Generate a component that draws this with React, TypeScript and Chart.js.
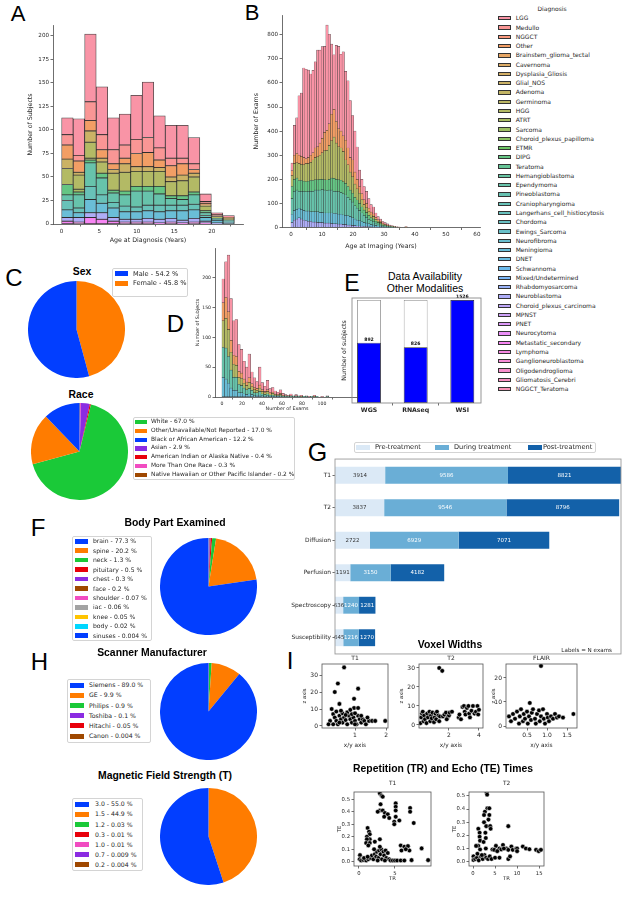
import React, { useEffect, useRef } from 'react';
import { Chart, registerables } from 'chart.js';
Chart.register(...registerables);

// ================= DATA =================
const DIAGNOSES = ['LGG','Medullo','NGGCT','Other','Brainstem_glioma_tectal','Cavernoma','Dysplasia_Gliosis','Glial_NOS','Adenoma','Germinoma','HGG','ATRT','Sarcoma','Choroid_plexus_papilloma','ETMR','DIPG','Teratoma','Hemangioblastoma','Ependymoma','Pineoblastoma','Craniopharyngioma','Langerhans_cell_histiocytosis','Chordoma','Ewings_Sarcoma','Neurofibroma','Meningioma','DNET','Schwannoma','Mixed/Undetermined','Rhabdomyosarcoma','Neuroblastoma','Choroid_plexus_carcinoma','MPNST','PNET','Neurocytoma','Metastatic_secondary','Lymphoma','Ganglioneuroblastoma','Oligodendroglioma','Gliomatosis_Cerebri','NGGCT_Teratoma'];

// Panel A: age at diagnosis, 15 bins of 23/15 years
const A_BIN_START = 0;
const A_BIN_WIDTH = 23 / 15;
const A_LGG = [18, 39, 72, 51, 34, 33, 47, 59, 34, 35, 35, 28, 8, 2, 2];
const A_MEDULLO = [11, 6, 20, 16, 15, 14, 15, 16, 13, 8, 6, 6, 2, 1, 0];
const A_OTHER = [15, 12, 11, 9, 6, 6, 14, 15, 8, 12, 12, 4, 2, 1, 1];
const A_GLIAL = [10, 3, 12, 4, 4, 9, 5, 5, 4, 5, 6, 4, 1, 0, 1];
const A_HGG = [17, 15, 17, 12, 18, 20, 16, 16, 16, 15, 16, 16, 5, 2, 1];
const A_ATRT = [0, 3, 2, 0, 0, 0, 0, 0, 0, 0, 0, 0, 0, 0, 0];
const A_DIPG = [11, 3, 3, 5, 3, 4, 5, 5, 8, 3, 4, 3, 2, 0, 0];
const A_EPEND = [6, 14, 25, 18, 10, 12, 17, 15, 12, 7, 6, 10, 3, 1, 1];
const A_CRANIO = [10, 5, 14, 9, 6, 6, 5, 6, 7, 6, 6, 6, 2, 1, 1];
const A_MENING = [8, 5, 14, 10, 10, 8, 8, 8, 8, 8, 10, 9, 4, 3, 2];
const A_NEUROB = [4, 5, 5, 7, 4, 3, 3, 4, 4, 4, 3, 4, 2, 1, 0];
const A_METAS = [3, 2, 7, 5, 3, 2, 2, 2, 1, 2, 1, 2, 1, 0, 0];
const A_X_TICKS = [0, 5, 10, 15, 20];
const A_Y_TICKS = [0, 25, 50, 75, 100, 125, 150, 175, 200];

// Panel B: age at imaging, bins of 0.75 years
const B_BIN_START = 0;
const B_BIN_WIDTH = 0.75;
const B_LGG = [32,124,148,247,263,372,372,363,337,342,358,401,386,381,357,437,372,291,227,316,342,319,349,286,279,237,185,170,134,68,60,55,50,40,31,29,18,13,9,7,6,5,3,3,2,1,1,0,0,2];
const B_OTHER = [20,35,39,35,33,30,20,25,30,30,40,42,50,60,77,83,90,110,115,90,75,70,65,82,70,60,70,50,40,28,25,20,18,15,12,11,8,6,6,4,3,2,2,1,1,1,0,0,0,1];
const B_HGG = [45,65,63,70,67,68,75,73,75,85,92,95,100,110,120,123,140,155,171,150,137,134,125,97,90,75,68,55,46,42,30,23,20,15,12,10,8,6,5,4,3,2,1,1,0,0,1,0,0,1];
const B_DIPG = [50,50,50,45,45,42,42,42,45,45,43,43,45,42,43,45,45,50,54,50,50,51,50,48,45,40,37,35,34,30,25,22,20,16,12,11,8,6,5,3,3,2,1,1,1,0,0,0,0,0];
const B_EPEND = [65,80,80,70,75,80,80,82,85,85,90,90,93,96,95,92,95,95,92,92,93,90,88,85,77,70,65,55,50,42,36,30,24,19,16,14,10,8,5,4,3,2,2,1,1,1,0,0,0,0];
const B_MENING = [35,40,40,40,40,40,40,43,40,43,43,45,42,42,42,42,42,44,43,43,41,41,40,38,38,35,32,27,24,22,19,16,14,12,9,8,6,5,4,2,2,2,1,1,0,0,0,0,0,0];
const B_NEUROB = [20,30,35,40,35,30,28,25,25,22,22,20,20,20,18,18,18,16,15,15,14,14,12,12,10,10,8,8,6,6,5,4,4,3,3,2,2,1,1,1,0,0,0,0,0,0,0,0,0,0];
const B_X_TICKS = [0, 10, 20, 30, 40, 50, 60];
const B_Y_TICKS = [0, 100, 200, 300, 400, 500, 600, 700, 800];

// Panel D: number of exams per subject, bins of 2.6 exams
const D_BIN_START = 0;
const D_BIN_WIDTH = 2.6;
const D_LGG = [40,60,95,70,58,62,45,40,30,25,40,20,16,12,30,12,9,16,7,8,5,4,6,3,2,1,3,1,2,1,2,0,1,1,0,2,0,0,1,0,1];
const D_OTHER = [30,35,30,20,15,15,10,9,7,6,8,5,4,3,5,3,2,3,2,2,1,1,2,1,0,1,0,0,1,0,0,0,0,0,0,0,0,0,0,0,0];
const D_HGG = [45,50,45,30,22,20,12,12,8,7,10,6,5,4,6,4,3,4,2,3,2,1,2,1,1,0,1,0,0,0,1,0,0,0,0,1,0,0,0,0,0];
const D_EPEND = [50,52,45,30,22,22,14,12,10,8,9,7,5,4,6,3,3,3,2,2,1,1,1,1,1,1,1,1,1,1,0,1,1,0,1,0,1,0,0,0,1];
const D_MENING = [33,30,23,15,11,11,7,7,5,4,5,4,2,3,3,2,1,2,1,1,1,1,1,0,0,0,0,0,0,0,0,0,0,0,0,0,0,0,0,0,0];
const D_X_TICKS = [0, 20, 40, 60, 80, 100];
const D_Y_TICKS = [0, 50, 100, 150, 200];

// Panel C
const SEX_LABELS = ['Male', 'Female'];
const SEX_PCT = ['54.2', '45.8'];
const RACE_LABELS = ['White', 'Other/Unavailable/Not Reported', 'Black or African American', 'Asian', 'American Indian or Alaska Native', 'More Than One Race', 'Native Hawaiian or Other Pacific Islander'];
const RACE_PCT = ['67.0', '17.0', '12.2', '2.9', '0.4', '0.3', '0.2'];
const RACE_DRAW_ORDER = [2, 1, 0, 4, 3, 5, 6];

// Panel E
const E_CATS = ['WGS', 'RNAseq', 'WSI'];
const E_VALUES = [892, 826, 1526];
const E_TOTAL = [1526, 1526, 1526];

// Panel F
const BODY_LABELS = ['brain', 'spine', 'neck', 'pituitary', 'chest', 'face', 'shoulder', 'iac', 'knee', 'body', 'sinuses'];
const BODY_PCT = ['77.3', '20.2', '1.3', '0.5', '0.3', '0.2', '0.07', '0.06', '0.05', '0.02', '0.004'];

// Panel G
const G_CATS = ['T1', 'T2', 'Diffusion', 'Perfusion', 'Spectroscopy', 'Susceptibility'];
const G_PRE = [3914, 3837, 2722, 1191, 636, 645];
const G_DURING = [9586, 9546, 6929, 3150, 1240, 1216];
const G_POST = [8821, 8796, 7071, 4182, 1281, 1270];
const G_SERIES = ['Pre-treatment', 'During treatment', 'Post-treatment'];

// Panel H
const SCANNER_LABELS = ['Siemens', 'GE', 'Philips', 'Toshiba', 'Hitachi', 'Canon'];
const SCANNER_PCT = ['89.0', '9.9', '0.9', '0.1', '0.05', '0.004'];
const FIELD_LABELS = ['3.0', '1.5', '1.2', '0.3', '1.0', '0.7', '0.2'];
const FIELD_PCT = ['55.0', '44.9', '0.03', '0.01', '0.01', '0.009', '0.004'];

// Panel I
const VOX_T1 = [[0.65,34.5],[0.45,25],[0.35,20],[1.1,22],[0.97,16],[0.97,10.6],[1.1,10.6],[0.5,13],[0.25,10],[0.3,7],[0.35,5],[0.4,3],[0.45,1],[0.5,6],[0.55,4],[0.6,2],[0.65,5],[0.7,3.5],[0.75,1],[0.8,6],[0.85,4],[0.9,2],[0.95,5],[1.0,3],[1.05,1],[1.1,6],[1.15,4],[1.2,2],[1.25,4],[1.3,3],[1.35,1],[1.45,3],[1.55,3],[1.65,3],[1.97,3],[0.2,3],[0.15,1],[0.3,1],[0.6,7.5],[0.75,8],[0.9,7],[1.0,7.5],[0.4,8.5],[0.55,9],[0.85,9.5],[1.2,6],[0.7,6.5],[0.5,2],[1.0,1],[1.4,5]];
const VOX_T2 = [[0.1,1],[0.15,4],[0.2,6],[0.25,7],[0.3,2],[0.35,5],[0.4,3],[0.5,1],[0.55,6],[0.6,4],[0.7,7],[0.75,2],[0.8,5],[0.85,3.5],[0.9,6.5],[1.0,1.5],[1.05,4],[1.1,6],[1.15,3],[1.2,7],[1.3,5],[1.35,2],[1.4,4.5],[1.6,4.5],[1.7,5.5],[1.8,6.5],[1.9,4],[2.0,5],[2.05,6.5],[2.2,7],[1.85,3],[2.65,4],[2.7,5.5],[2.8,3],[2.9,9.5],[3.0,10],[3.05,7],[3.1,5.5],[3.2,9],[3.3,10],[3.35,6],[3.4,4],[3.5,7.5],[3.6,10],[3.7,6],[3.8,7],[3.9,10],[3.95,5.5],[4.0,8],[1.35,30],[1.55,28.5]];
const VOX_FLAIR = [[0.05,4],[0.1,2],[0.15,5],[0.2,3],[0.25,6],[0.3,1],[0.32,4],[0.35,7],[0.4,2],[0.42,5],[0.45,3],[0.5,6],[0.52,1],[0.55,4],[0.57,9.6],[0.6,2.5],[0.62,5.5],[0.65,7],[0.7,3],[0.72,1],[0.75,5],[0.8,6.5],[0.82,2],[0.85,4],[0.9,7],[0.92,3],[0.95,1],[1.0,5],[1.02,3.5],[1.05,2],[1.1,4],[1.15,3],[1.2,5],[1.25,3.5],[1.3,4],[1.4,3.5],[1.66,5],[0.85,25]];
const TRTE_T1 = [[2.9,0.547],[3.15,0.528],[3.3,0.52],[3.0,0.46],[2.9,0.41],[3.3,0.41],[3.6,0.39],[4.0,0.38],[4.2,0.35],[5.1,0.467],[5.1,0.44],[5.1,0.41],[5.1,0.36],[4.9,0.32],[4.9,0.30],[5.6,0.33],[7.1,0.43],[7.1,0.40],[7.6,0.31],[2.6,0.40],[3.5,0.36],[1.2,0.27],[1.4,0.24],[1.5,0.22],[1.1,0.20],[1.5,0.18],[1.1,0.18],[1.0,0.15],[1.5,0.15],[2.2,0.16],[2.9,0.18],[1.3,0.13],[5.8,0.13],[6.3,0.12],[6.8,0.125],[5.9,0.09],[7.0,0.09],[6.5,0.10],[8.7,0.107],[9.6,0.013],[7.3,0.013],[0.14,0.053],[0.1,0.02],[0.3,0.01],[0.6,0.015],[1.0,0.01],[1.3,0.02],[1.6,0.03],[1.8,0.05],[2.0,0.02],[2.2,0.06],[2.4,0.04],[2.5,0.08],[2.7,0.03],[2.8,0.09],[3.0,0.06],[3.1,0.1],[3.2,0.02],[3.4,0.08],[3.5,0.05],[3.7,0.09],[3.8,0.03],[4.0,0.07],[4.2,0.02],[4.4,0.01],[4.7,0.01],[5.0,0.01],[5.3,0.01],[5.8,0.01],[6.3,0.01],[0.7,0.03],[1.2,0.04],[2.6,0.01],[3.6,0.01],[2.1,0.1],[2.9,0.12]];
const TRTE_T2 = [[3.1,0.525],[3.2,0.51],[3.25,0.406],[3.7,0.406],[2.7,0.38],[3.7,0.355],[2.5,0.355],[3.5,0.32],[2.5,0.30],[3.0,0.27],[3.9,0.27],[4.0,0.25],[2.8,0.22],[1.2,0.25],[1.5,0.22],[1.5,0.19],[1.6,0.16],[2.4,0.15],[2.9,0.18],[1.2,0.12],[0.7,0.12],[8.0,0.27],[1.6,0.093],[2.9,0.10],[4.4,0.093],[5.2,0.12],[6.0,0.10],[6.4,0.093],[6.8,0.127],[7.6,0.10],[8.0,0.09],[8.7,0.115],[9.0,0.09],[9.8,0.10],[11.3,0.115],[12.0,0.10],[12.8,0.095],[14.3,0.09],[14.9,0.08],[15.4,0.09],[8.0,0.02],[8.4,0.04],[0.1,0.04],[0.1,0.013],[0.5,0.02],[0.9,0.03],[1.3,0.01],[1.8,0.04],[2.2,0.02],[2.6,0.05],[3.0,0.03],[3.4,0.02],[3.8,0.04],[4.2,0.02],[5.0,0.03],[6.0,0.03],[10.0,0.1],[10.0,0.08],[4.8,0.09],[5.5,0.08],[7.0,0.1],[2.0,0.05],[1.0,0.06]];

// ================= STYLE =================
const FONT = "'DejaVu Sans', sans-serif";
const ARIAL = "'Liberation Sans', Arial, sans-serif";
const TXT = '#262626';
const SPINE = '#4a4a4a';
const BRIGHT = { blue: '#023eff', orange: '#ff7c00', green: '#1ac938', red: '#e8000b', purple: '#8b2be2', brown: '#9f4800', pink: '#f14cc1', gray: '#a3a3a3', yellow: '#ffc400', cyan: '#00d7ff' };
const SEX_COLORS = [BRIGHT.blue, BRIGHT.orange];
const RACE_COLORS = [BRIGHT.green, BRIGHT.orange, BRIGHT.blue, BRIGHT.purple, BRIGHT.red, BRIGHT.pink, BRIGHT.brown];
const BODY_COLORS = [BRIGHT.blue, BRIGHT.orange, BRIGHT.green, BRIGHT.red, BRIGHT.purple, BRIGHT.brown, BRIGHT.pink, BRIGHT.gray, BRIGHT.yellow, BRIGHT.cyan, BRIGHT.blue];
const SCANNER_COLORS = [BRIGHT.blue, BRIGHT.orange, BRIGHT.green, BRIGHT.purple, BRIGHT.red, BRIGHT.brown];
const FIELD_COLORS = [BRIGHT.blue, BRIGHT.orange, BRIGHT.green, BRIGHT.red, BRIGHT.pink, BRIGHT.purple, BRIGHT.brown];
const G_COLORS = ['#dbe9f6', '#6aaed6', '#1361a9'];

// HUSL palette (seaborn husl_palette)
const HM = [[3.2406, -1.5372, -0.4986], [-0.9689, 1.8758, 0.0415], [0.0557, -0.2040, 1.0570]];
function maxChroma(L: number, H: number) {
  const hrad = H / 360 * Math.PI * 2;
  const sinH = Math.sin(hrad), cosH = Math.cos(hrad);
  const sub1 = Math.pow(L + 16, 3) / 1560896;
  const sub2 = sub1 > 0.008856 ? sub1 : L / 903.3;
  let result = Infinity;
  for (const [m1, m2, m3] of HM) {
    const top = (0.99915 * m1 + 1.05122 * m2 + 1.14460 * m3) * sub2;
    const rb = 0.86330 * m3 - 0.17266 * m2;
    const lb = 0.12949 * m3 - 0.38848 * m1;
    const bottom = (rb * sinH + lb * cosH) * sub2;
    for (const t of [0, 1]) {
      const C = L * (top - 1.05122 * t) / (bottom + 0.17266 * sinH * t);
      if (C > 0 && C < result) result = C;
    }
  }
  return result;
}
function huslToRgb(H: number, S: number, L: number) {
  const C = maxChroma(L, H) / 100 * S;
  const hrad = H / 360 * 2 * Math.PI;
  const U = Math.cos(hrad) * C, V = Math.sin(hrad) * C;
  const t = (L + 16) / 116;
  const varY = Math.pow(t, 3) > 0.008856 ? Math.pow(t, 3) : (116 * t - 16) / 903.3;
  const varU = U / (13 * L) + 0.19784, varV = V / (13 * L) + 0.46834;
  const Y = varY;
  const X = -(9 * Y * varU) / ((varU - 4) * varV - varU * varV);
  const Z = (9 * Y - 15 * varV * Y - varV * X) / (3 * varV);
  return HM.map((r) => {
    let c = r[0] * X + r[1] * Y + r[2] * Z;
    c = c <= 0.0031308 ? 12.92 * c : 1.055 * Math.pow(c, 1 / 2.4) - 0.055;
    return Math.min(1, Math.max(0, c)) * 255;
  });
}
const PAL = DIAGNOSES.map((_, i) => huslToRgb((((i / DIAGNOSES.length) + 0.01) % 1) * 359, 89.1, 64.35));
const diagColor = (name: string) => {
  const c = PAL[DIAGNOSES.indexOf(name)];
  return `rgb(${c.map((v) => Math.round(v * 0.75 + 255 * 0.25)).join(',')})`;
};

// ================= HELPERS =================
function geom(L: number, T: number, R: number, B: number, wy: number, hx: number, pt = 6, pr = 8) {
  const left = Math.round(L - wy);
  const top = Math.round(T - pt);
  const width = Math.round(R + pr) - left;
  const height = Math.round(B + hx) - top;
  return { box: { left, top, width, height }, padding: { left: 0, top: T - top, right: left + width - R, bottom: 0 }, wy: L - left, hx: top + height - B };
}

function baseOptions(padding: any) {
  return {
    responsive: false, animation: false, devicePixelRatio: 1, events: [],
    layout: { padding },
    plugins: { legend: { display: false }, tooltip: { enabled: false }, title: { display: false } },
  };
}

function linAxis(o: any) {
  const isY = o.axis === 'y';
  return {
    type: 'linear', min: o.min, max: o.max, stacked: o.stacked, offset: false,
    afterBuildTicks: (s: any) => { s.ticks = o.ticks.map((v: number) => ({ value: v })); },
    afterFit: (s: any) => { if (isY) s.width = o.size; else s.height = o.size; },
    ticks: {
      display: o.showTicks !== false,
      autoSkip: false, maxRotation: 0, color: TXT, padding: o.tpad ?? 1.5,
      font: { size: o.fs, family: FONT, weight: o.bold ? 'bold' : 'normal' },
      callback: o.cb ?? ((v: number) => String(v)),
    },
    grid: { display: o.showGrid !== false, drawOnChartArea: false, drawTicks: true, tickLength: 2.5, color: SPINE, lineWidth: 0.8 },
    border: { display: o.border !== false, color: SPINE, width: 0.8 },
    title: o.title ? { display: true, text: o.title, font: { size: o.tfs, family: FONT }, color: TXT, padding: 0 } : { display: false },
  };
}

const framePlugin = {
  id: 'frame',
  afterDraw(chart: any, _a: any, opts: any) {
    if (!opts || !opts.color) return;
    const { ctx, chartArea: a } = chart;
    ctx.save();
    ctx.strokeStyle = opts.color;
    ctx.lineWidth = opts.width ?? 0.8;
    ctx.strokeRect(a.left, a.top, a.right - a.left, a.bottom - a.top);
    ctx.restore();
  },
};

function ChartCanvas({ box, make }: any) {
  const ref = useRef<HTMLCanvasElement>(null);
  useEffect(() => {
    const chart = new Chart(ref.current as HTMLCanvasElement, make());
    return () => chart.destroy();
  }, []);
  return (
    <div style={{ position: 'absolute', left: box.left, top: box.top, width: box.width, height: box.height }}>
      <canvas ref={ref} width={box.width} height={box.height} style={{ display: 'block', width: box.width, height: box.height }} />
    </div>
  );
}

function Txt({ x, y, text, size, bold, family, anchor, color, rotate }: any) {
  const tx = anchor === 'start' ? '0%' : anchor === 'end' ? '-100%' : '-50%';
  return (
    <div style={{
      position: 'absolute', left: x, top: y, transform: `translate(${tx}, -50%)${rotate ? ` rotate(${rotate}deg)` : ''}`,
      fontSize: size, lineHeight: 1, fontFamily: family ?? FONT, fontWeight: bold ? 'bold' : 'normal',
      color: color ?? TXT, whiteSpace: 'nowrap',
    }}>{text}</div>
  );
}

function LegendBox({ box, items, colors, fs, firstY, gap, patchX, patchW, patchH, textX, frame = true, edge }: any) {
  return (
    <>
      {frame && <div style={{ position: 'absolute', left: box[0], top: box[1], width: box[2] - box[0], height: box[3] - box[1], border: '1px solid #d4d4d4', borderRadius: 2, boxSizing: 'border-box', background: 'rgba(255,255,255,0.8)' }} />}
      {items.map((t: string, i: number) => (
        <React.Fragment key={i}>
          <div style={{ position: 'absolute', left: patchX, top: firstY + i * gap - patchH / 2, width: patchW, height: patchH, background: colors[i], boxSizing: 'border-box', border: edge ? `0.8px solid ${edge}` : 'none' }} />
          <Txt x={textX} y={firstY + i * gap} text={t} size={fs} anchor="start" color={TXT} />
        </React.Fragment>
      ))}
    </>
  );
}

// ================= CHART BUILDERS =================
function histogram(g: any, start: number, width: number, series: any[], x: any, y: any) {
  return () => ({
    type: 'bar',
    data: {
      datasets: series.slice().reverse().map(([name, vals]: any) => ({
        label: name,
        data: vals.map((v: number, i: number) => ({ x: start + (i + 0.5) * width, y: v })),
        backgroundColor: diagColor(name),
        borderColor: 'rgba(20,20,20,0.8)',
        borderWidth: x.bw ?? 0.6,
        borderSkipped: false,
        categoryPercentage: 1, barPercentage: 1,
      })),
    },
    options: {
      ...baseOptions(g.padding),
      scales: {
        x: linAxis({ axis: 'x', ...x, size: g.hx, stacked: true }),
        y: linAxis({ axis: 'y', ...y, size: g.wy, stacked: true }),
      },
    },
  });
}

function pie(values: number[], colors: string[]) {
  return () => ({
    type: 'pie',
    data: { datasets: [{ data: values.slice().reverse(), backgroundColor: colors.slice().reverse(), borderWidth: 0, hoverOffset: 0, offset: 0 }] },
    options: { ...baseOptions(0), rotation: 0 },
  });
}

function scatter(g: any, pts: number[][], x: any, y: any) {
  return () => ({
    type: 'scatter',
    data: { datasets: [{ data: pts.map(([a, b]) => ({ x: a, y: b })), backgroundColor: '#000', borderColor: '#fff', borderWidth: 0.5, pointRadius: 2.3 }] },
    options: {
      ...baseOptions(g.padding),
      scales: {
        x: linAxis({ axis: 'x', ...x, size: g.hx, border: false }),
        y: linAxis({ axis: 'y', ...y, size: g.wy, border: false }),
      },
      plugins: { ...baseOptions(0).plugins, frame: { color: '#555', width: 0.8 } },
    },
    plugins: [framePlugin],
  });
}

// ================= PANELS =================
const gA = geom(53, 25, 243, 224, 25.8, 19.8);
const gB = geom(282, 15, 480, 227.5, 28.8, 22.3);
const gD = geom(215, 248, 359, 397, 20, 15);
const gE = geom(352, 298, 481, 403, 10.6, 12);
const gG = geom(335, 458, 621, 659, 45, 0, 4, 4);
const gV1 = geom(322, 664, 388, 728, 20, 21);
const gV2 = geom(419, 664, 483, 728, 20, 21);
const gV3 = geom(506, 664, 577, 728, 15, 21);
const gR1 = geom(354, 792, 431, 866, 18, 16);
const gR2 = geom(469, 792, 544, 866, 18, 16);

const makeA = histogram(gA, A_BIN_START, A_BIN_WIDTH, [
  ['LGG', A_LGG], ['Medullo', A_MEDULLO], ['Other', A_OTHER], ['Glial_NOS', A_GLIAL], ['HGG', A_HGG], ['ATRT', A_ATRT], ['DIPG', A_DIPG],
  ['Ependymoma', A_EPEND], ['Craniopharyngioma', A_CRANIO], ['Meningioma', A_MENING], ['Neuroblastoma', A_NEUROB], ['Metastatic_secondary', A_METAS],
], { min: -1.15, max: 24.15, ticks: A_X_TICKS, fs: 5.6, title: 'Age at Diagnosis (Years)', tfs: 6.3, bw: 0.8 },
   { min: 0, max: 211.7, ticks: A_Y_TICKS, fs: 5.6, title: 'Number of Subjects', tfs: 6.3 });

const makeB = histogram(gB, B_BIN_START, B_BIN_WIDTH, [
  ['LGG', B_LGG], ['Other', B_OTHER], ['HGG', B_HGG], ['DIPG', B_DIPG], ['Ependymoma', B_EPEND], ['Meningioma', B_MENING], ['Neuroblastoma', B_NEUROB],
], { min: -2.9, max: 61, ticks: B_X_TICKS, fs: 5.6, title: 'Age at Imaging (Years)', tfs: 6.3, bw: 0.4 },
   { min: 0, max: 882, ticks: B_Y_TICKS, fs: 5.6, title: 'Number of Exams', tfs: 6.3 });

const makeD = histogram(gD, D_BIN_START, D_BIN_WIDTH, [
  ['LGG', D_LGG], ['Other', D_OTHER], ['HGG', D_HGG], ['Ependymoma', D_EPEND], ['Meningioma', D_MENING],
], { min: -7, max: 137, ticks: D_X_TICKS, fs: 4.6, title: 'Number of Exams', tfs: 4.8, bw: 0.4 },
   { min: 0, max: 250, ticks: D_Y_TICKS, fs: 4.6, title: 'Number of Subjects', tfs: 4.8 });

const eLabelPlugin = {
  id: 'eLabels',
  afterDatasetsDraw(chart: any) {
    const { ctx } = chart;
    const meta = chart.getDatasetMeta(0);
    ctx.save();
    ctx.font = `bold 4.6px ${FONT}`;
    ctx.fillStyle = '#111';
    ctx.textAlign = 'center';
    ctx.textBaseline = 'bottom';
    meta.data.forEach((el: any, i: number) => ctx.fillText(String(E_VALUES[i]), el.x, el.y - 1));
    ctx.restore();
  },
};
const makeE = () => ({
  type: 'bar',
  data: {
    datasets: [
      { label: 'available', data: E_VALUES.map((v, i) => ({ x: i, y: v })), backgroundColor: '#0000ff', borderColor: '#333', borderWidth: 0.8, borderSkipped: false, categoryPercentage: 1, barPercentage: 0.51 },
      { label: 'total', data: E_TOTAL.map((v, i) => ({ x: i, y: v })), backgroundColor: '#ffffff', borderColor: '#8a8a8a', borderWidth: 0.8, borderSkipped: false, categoryPercentage: 1, barPercentage: 0.51 },
    ],
  },
  options: {
    ...baseOptions(gE.padding),
    scales: {
      x: { ...linAxis({ axis: 'x', min: -0.364, max: 2.4, ticks: [0, 1, 2], fs: 6.2, bold: true, size: gE.hx, border: false, cb: (v: number) => E_CATS[v] }), stacked: true },
      y: linAxis({ axis: 'y', min: 0, max: 1556, ticks: [], showTicks: false, showGrid: false, border: false, size: gE.wy, title: 'Number of subjects', tfs: 6.2 }),
    },
    plugins: { ...baseOptions(0).plugins, frame: { color: '#8a8a8a', width: 0.9 } },
  },
  plugins: [framePlugin, eLabelPlugin],
});

const gLabelPlugin = {
  id: 'gLabels',
  afterDatasetsDraw(chart: any) {
    const { ctx } = chart;
    ctx.save();
    ctx.font = `5.5px ${FONT}`;
    ctx.textAlign = 'center';
    ctx.textBaseline = 'middle';
    chart.data.datasets.forEach((ds: any, di: number) => {
      const meta = chart.getDatasetMeta(di);
      ctx.fillStyle = di === 0 ? '#333' : '#fff';
      meta.data.forEach((el: any, i: number) => ctx.fillText(String(ds.data[i]), (el.x + el.base) / 2, el.y));
    });
    ctx.restore();
  },
};
const makeG = () => ({
  type: 'bar',
  data: {
    labels: G_CATS,
    datasets: [G_PRE, G_DURING, G_POST].map((vals, i) => ({
      label: G_SERIES[i], data: vals, backgroundColor: G_COLORS[i], borderWidth: 0, categoryPercentage: 1, barPercentage: 0.52,
    })),
  },
  options: {
    ...baseOptions(gG.padding),
    indexAxis: 'y',
    scales: {
      x: { type: 'linear', display: false, stacked: true, min: 0, max: G_PRE[0] + G_DURING[0] + G_POST[0] },
      y: {
        type: 'category', stacked: true, offset: true,
        afterFit: (s: any) => { s.width = gG.wy; },
        ticks: { color: TXT, font: { size: 5.9, family: FONT }, padding: 1.5 },
        grid: { display: true, offset: false, drawOnChartArea: false, drawTicks: true, tickLength: 2.5, color: SPINE, lineWidth: 0.8 },
        border: { display: false },
      },
    },
    plugins: { ...baseOptions(0).plugins, frame: { color: '#9a9a9a', width: 0.9 } },
  },
  plugins: [framePlugin, gLabelPlugin],
});

const oneDec = (v: number) => v.toFixed(1);

// ================= APP =================
export default function App() {
  const sexItems = SEX_LABELS.map((l, i) => `${l} - ${SEX_PCT[i]} %`);
  const raceItems = RACE_LABELS.map((l, i) => `${l} - ${RACE_PCT[i]} %`);
  const bodyItems = BODY_LABELS.map((l, i) => `${l} - ${BODY_PCT[i]} %`);
  const scanItems = SCANNER_LABELS.map((l, i) => `${l} - ${SCANNER_PCT[i]} %`);
  const fieldItems = FIELD_LABELS.map((l, i) => `${l} - ${FIELD_PCT[i]} %`);
  const pieBox = (cx: number, cy: number) => ({ left: Math.round(cx - 48.5), top: Math.round(cy - 48.5), width: 97, height: 97 });
  const raceVals = RACE_DRAW_ORDER.map((i) => parseFloat(RACE_PCT[i]));
  const raceCols = RACE_DRAW_ORDER.map((i) => RACE_COLORS[i]);

  return (
    <div style={{ position: 'absolute', left: 0, top: 0, width: 630, height: 900, background: '#fff', overflow: 'hidden' }}>
      {/* Panel letters */}
      <Txt x={18} y={14} text="A" size={22} family={ARIAL} color="#000" />
      <Txt x={252} y={12.5} text="B" size={22} family={ARIAL} color="#000" />
      <Txt x={14} y={277.5} text="C" size={24} family={ARIAL} color="#000" />
      <Txt x={175.5} y={324} text="D" size={24} family={ARIAL} color="#000" />
      <Txt x={352} y={282.5} text="E" size={23} family={ARIAL} color="#000" />
      <Txt x={38} y={528} text="F" size={24} family={ARIAL} color="#000" />
      <Txt x={317.5} y={452} text="G" size={25} family={ARIAL} color="#000" />
      <Txt x={39.5} y={662} text="H" size={24} family={ARIAL} color="#000" />
      <Txt x={290} y={661} text="I" size={24} family={ARIAL} color="#000" />

      {/* A, B, D */}
      <ChartCanvas box={gA.box} make={makeA} />
      <ChartCanvas box={gB.box} make={makeB} />
      <ChartCanvas box={gD.box} make={makeD} />

      {/* Diagnosis legend */}
      <Txt x={552} y={9.3} text="Diagnosis" size={6} />
      <LegendBox box={[0, 0, 0, 0]} frame={false} items={DIAGNOSES} colors={DIAGNOSES.map(diagColor)} fs={6} firstY={18.3} gap={9.27} patchX={498} patchW={13} patchH={4.3} textX={515.7} edge="#333" />

      {/* C: Sex and Race */}
      <Txt x={82} y={272} text="Sex" size={10.4} bold family={ARIAL} color="#000" />
      <ChartCanvas box={pieBox(76, 329.5)} make={pie(SEX_PCT.map(parseFloat), SEX_COLORS)} />
      <LegendBox box={[112, 268, 188, 297]} items={sexItems} colors={SEX_COLORS} fs={6.6} firstY={273.5} gap={9.8} patchX={115} patchW={13} patchH={4.5} textX={133} />
      <Txt x={81} y={395} text="Race" size={10.4} bold family={ARIAL} color="#000" />
      <ChartCanvas box={pieBox(79.5, 451.5)} make={pie(raceVals, raceCols)} />
      <LegendBox box={[133, 417, 295, 480]} items={raceItems} colors={RACE_COLORS} fs={5.9} firstY={422.3} gap={8.73} patchX={135} patchW={12} patchH={4.3} textX={151} />

      {/* E */}
      <Txt x={425} y={276} text="Data Availability" size={10.5} family={ARIAL} color="#000" />
      <Txt x={425} y={287.5} text="Other Modalities" size={10.5} family={ARIAL} color="#000" />
      <ChartCanvas box={gE.box} make={makeE} />

      {/* F */}
      <Txt x={175} y={523} text="Body Part Examined" size={10.4} bold family={ARIAL} color="#000" />
      <ChartCanvas box={pieBox(208, 586.5)} make={pie(BODY_PCT.map(parseFloat), BODY_COLORS)} />
      <LegendBox box={[72, 536, 152, 641]} items={bodyItems} colors={BODY_COLORS} fs={6.1} firstY={541.3} gap={9.44} patchX={75} patchW={13} patchH={4.5} textX={93} />

      {/* G */}
      <div style={{ position: 'absolute', left: 354, top: 442, width: 242, height: 11, border: '1px solid #d4d4d4', borderRadius: 2, boxSizing: 'border-box' }} />
      {G_SERIES.map((s, i) => (
        <React.Fragment key={s}>
          <div style={{ position: 'absolute', left: [356, 435, 528][i], top: 445, width: 14, height: 4.5, background: G_COLORS[i] }} />
          <Txt x={[375, 454, 543][i]} y={447.3} text={s} size={6.6} anchor="start" />
        </React.Fragment>
      ))}
      <ChartCanvas box={gG.box} make={makeG} />
      <Txt x={612} y={651} text="Labels = N exams" size={5.6} anchor="end" />

      {/* H */}
      <Txt x={152} y={653} text="Scanner Manufacturer" size={10.4} bold family={ARIAL} color="#000" />
      <ChartCanvas box={pieBox(208.5, 711)} make={pie(SCANNER_PCT.map(parseFloat), SCANNER_COLORS)} />
      <LegendBox box={[67, 679, 151, 743]} items={scanItems} colors={SCANNER_COLORS} fs={6.2} firstY={685.3} gap={10.15} patchX={70} patchW={14} patchH={5} textX={89} />
      <Txt x={165} y={776} text="Magnetic Field Strength (T)" size={10.4} bold family={ARIAL} color="#000" />
      <ChartCanvas box={pieBox(208.5, 836)} make={pie(FIELD_PCT.map(parseFloat), FIELD_COLORS)} />
      <LegendBox box={[72, 798, 143, 871]} items={fieldItems} colors={FIELD_COLORS} fs={6.2} firstY={804.3} gap={10.1} patchX={75} patchW={14} patchH={5} textX={95} />

      {/* I */}
      <Txt x={450} y={645} text="Voxel Widths" size={10.4} bold family={ARIAL} color="#000" />
      <Txt x={355} y={658} text="T1" size={6} />
      <Txt x={451} y={658} text="T2" size={6} />
      <Txt x={541.5} y={658} text="FLAIR" size={6} />
      <ChartCanvas box={gV1.box} make={scatter(gV1, VOX_T1, { min: -0.06, max: 2.06, ticks: [1, 2], fs: 6, title: 'x/y axis', tfs: 5.8 }, { min: -1.18, max: 36.5, ticks: [0, 10, 20, 30], fs: 6, title: 'z axis', tfs: 5.2 })} />
      <ChartCanvas box={gV2.box} make={scatter(gV2, VOX_T2, { min: 0, max: 4.27, ticks: [2, 4], fs: 6, title: 'x/y axis', tfs: 5.8 }, { min: -1.58, max: 32.1, ticks: [0, 10, 20, 30], fs: 6, title: 'z axis', tfs: 5.2 })} />
      <ChartCanvas box={gV3.box} make={scatter(gV3, VOX_FLAIR, { min: -0.025, max: 1.75, ticks: [0.5, 1.0, 1.5], fs: 6, title: 'x/y axis', tfs: 5.8, cb: oneDec }, { min: -0.83, max: 25.8, ticks: [0, 10, 20], fs: 6, title: 'z axis', tfs: 5.2 })} />

      <Txt x={443} y={769} text="Repetition (TR) and Echo (TE) Times" size={10.4} bold family={ARIAL} color="#000" />
      <Txt x={392.5} y={784} text="T1" size={5.8} />
      <Txt x={506.5} y={784} text="T2" size={5.8} />
      <ChartCanvas box={gR1.box} make={scatter(gR1, TRTE_T1, { min: -0.69, max: 10.0, ticks: [0, 5], fs: 5.3, title: 'TR', tfs: 5.3 }, { min: -0.034, max: 0.558, ticks: [0, 0.1, 0.2, 0.3, 0.4, 0.5], fs: 5.3, title: 'TE', tfs: 5.3, cb: oneDec })} />
      <ChartCanvas box={gR2.box} make={scatter(gR2, TRTE_T2, { min: -0.91, max: 16.1, ticks: [0, 5, 10, 15], fs: 5.3, title: 'TR', tfs: 5.3 }, { min: -0.033, max: 0.53, ticks: [0, 0.1, 0.2, 0.3, 0.4, 0.5], fs: 5.3, title: 'TE', tfs: 5.3, cb: oneDec })} />
    </div>
  );
}
